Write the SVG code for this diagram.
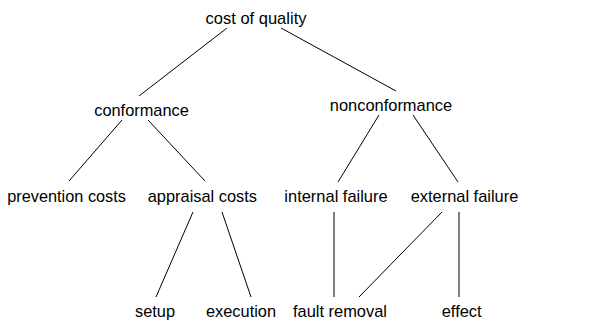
<svg xmlns="http://www.w3.org/2000/svg" width="606" height="320" viewBox="0 0 606 320">
<style>
text{font-family:"Liberation Sans",Arial,sans-serif;font-size:17px;fill:#000;text-anchor:middle}
.e line{stroke:#000;stroke-width:1}
</style>
<rect width="606" height="320" fill="#fff"/>
<g class="e" id="connectors">
<line x1="227" y1="28" x2="139" y2="96"/>
<line x1="281" y1="28" x2="396" y2="91"/>
<line x1="122" y1="120" x2="69" y2="181"/>
<line x1="148" y1="120" x2="205" y2="181"/>
<line x1="379" y1="115" x2="338" y2="182"/>
<line x1="413" y1="115" x2="458" y2="182"/>
<line x1="193" y1="212" x2="156" y2="297"/>
<line x1="222" y1="212" x2="251" y2="297"/>
<line x1="334" y1="212" x2="334" y2="297"/>
<line x1="442" y1="212" x2="359" y2="297"/>
<line x1="459" y1="212" x2="459" y2="297"/>
</g>
<g id="cost-of-quality"><text x="256" y="24" textLength="101" lengthAdjust="spacingAndGlyphs">cost of quality</text></g>
<g id="conformance"><text x="141.5" y="115.5" textLength="94.5" lengthAdjust="spacingAndGlyphs">conformance</text></g>
<g id="nonconformance"><text x="391" y="111" textLength="122.3" lengthAdjust="spacingAndGlyphs">nonconformance</text></g>
<g id="prevention-costs"><text x="66.6" y="202" textLength="118.7" lengthAdjust="spacingAndGlyphs">prevention costs</text></g>
<g id="appraisal-costs"><text x="202.4" y="202" textLength="109.3" lengthAdjust="spacingAndGlyphs">appraisal costs</text></g>
<g id="internal-failure"><text x="336" y="202" textLength="103.3" lengthAdjust="spacingAndGlyphs">internal failure</text></g>
<g id="external-failure"><text x="464.5" y="202" textLength="107.7" lengthAdjust="spacingAndGlyphs">external failure</text></g>
<g id="setup"><text x="155" y="316.5" textLength="40" lengthAdjust="spacingAndGlyphs">setup</text></g>
<g id="execution"><text x="241" y="316.5" textLength="70" lengthAdjust="spacingAndGlyphs">execution</text></g>
<g id="fault-removal"><text x="340" y="316.5" textLength="94" lengthAdjust="spacingAndGlyphs">fault removal</text></g>
<g id="effect"><text x="461.7" y="316.5" textLength="40" lengthAdjust="spacingAndGlyphs">effect</text></g>
</svg>
